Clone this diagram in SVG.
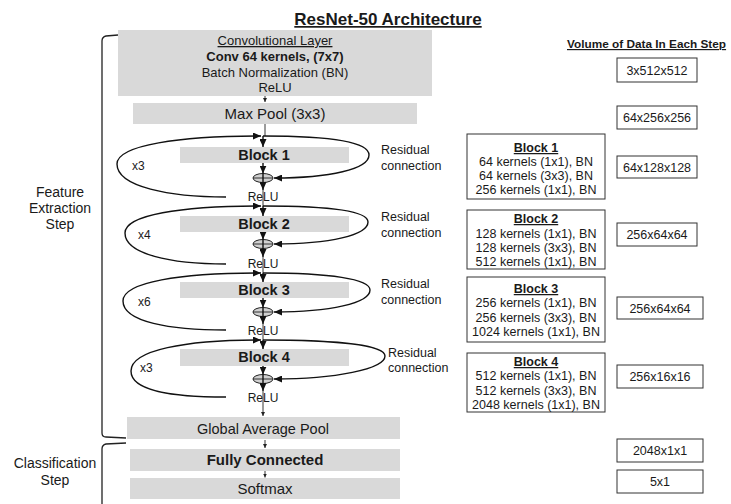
<svg xmlns="http://www.w3.org/2000/svg" width="731" height="504" viewBox="0 0 731 504">
<style>
text{font-family:"Liberation Sans",Arial,sans-serif;fill:#1a1a1a}
.g{fill:#d9d9d9}
.b{font-weight:bold}
.m{text-anchor:middle}
.u{text-decoration:underline}
.ln{fill:none;stroke:#111;stroke-width:1.4}
.th{fill:none;stroke:#222;stroke-width:0.9}
.bx{fill:#fff;stroke:#333;stroke-width:1}
.br{fill:none;stroke:#222;stroke-width:1.3}
.add{fill:#d0d0d0;stroke:#222;stroke-width:1}
</style>
<defs>
<marker id="ah" markerUnits="userSpaceOnUse" markerWidth="8" markerHeight="7" refX="8" refY="3.5" orient="auto"><path d="M0,0 L8,3.5 L0,7 z" fill="#111"/></marker>
<marker id="as" markerUnits="userSpaceOnUse" markerWidth="4" markerHeight="4" refX="4" refY="2" orient="auto"><path d="M0,0 L4,2 L0,4 z" fill="#222"/></marker>
</defs>

<text x="388" y="25" class="b m u" font-size="17">ResNet-50 Architecture</text>

<g id="brackets">
<path class="br" d="M118,35 L106,36 Q102,37 102,41 L102,433 Q102,437 106,437 L126,438"/>
<path class="br" d="M126,443 L106,444 Q102,445 102,449 L102,504"/>
<text x="60" y="197" class="m" font-size="14">Feature</text>
<text x="60" y="213" class="m" font-size="14">Extraction</text>
<text x="60" y="229" class="m" font-size="14">Step</text>
<text x="55" y="468" class="m" font-size="14">Classification</text>
<text x="55" y="485" class="m" font-size="14">Step</text>
</g>

<g id="conv">
<rect class="g" x="118" y="30" width="314" height="66"/>
<text x="275" y="45" class="m u" font-size="13">Convolutional Layer</text>
<text x="275" y="61" class="m b" font-size="13">Conv 64 kernels, (7x7)</text>
<text x="275" y="77" class="m" font-size="13">Batch Normalization (BN)</text>
<text x="275" y="92" class="m" font-size="13">ReLU</text>
</g>
<g id="maxpool">
<rect class="g" x="133" y="103" width="284" height="21"/>
<text x="275" y="119" class="m" font-size="15">Max Pool (3x3)</text>
</g>

<g id="block1">
<rect class="g" x="180" y="147" width="169" height="16"/>
<text x="264" y="160" class="m b" font-size="14.5">Block 1</text>
</g>
<g id="block2">
<rect class="g" x="180" y="216" width="169" height="16"/>
<text x="264" y="229" class="m b" font-size="14.5">Block 2</text>
</g>
<g id="block3">
<rect class="g" x="180" y="282" width="169" height="16"/>
<text x="264" y="295" class="m b" font-size="14.5">Block 3</text>
</g>
<g id="block4">
<rect class="g" x="180" y="349" width="169" height="17"/>
<text x="264" y="362" class="m b" font-size="14.5">Block 4</text>
</g>

<g id="adders">
<ellipse class="add" cx="263" cy="178" rx="10" ry="4.5"/>
<ellipse class="add" cx="263" cy="244" rx="10" ry="4.5"/>
<ellipse class="add" cx="263" cy="312" rx="10" ry="4.5"/>
<ellipse class="add" cx="263" cy="379" rx="10" ry="4.5"/>
<path class="th" d="M253,178 H273 M253,244 H273 M253,312 H273 M253,379 H273"/>
</g>

<g id="gap">
<rect class="g" x="127" y="417" width="273" height="22"/>
<text x="263" y="434" class="m" font-size="14.5">Global Average Pool</text>
</g>
<g id="fc">
<rect class="g" x="130" y="449" width="270" height="22"/>
<text x="265" y="465" class="m b" font-size="15">Fully Connected</text>
</g>
<g id="softmax">
<rect class="g" x="130" y="478" width="270" height="21"/>
<text x="265" y="494" class="m" font-size="15">Softmax</text>
</g>

<g id="connectors">
<path class="th" d="M265,96 L265,102" marker-end="url(#as)"/>
<path class="th" d="M265,124 L265,136"/>
<!-- block 1 -->
<path class="ln" d="M226,197 C170,197 117,187 117,164 C117,145 180,136 261,136" marker-end="url(#ah)"/>
<path class="ln" d="M263,136 C330,136 369,142 369,155 C369,169 330,178 274,178" marker-end="url(#ah)"/>
<path class="ln" d="M263,136 L263,147" marker-end="url(#ah)"/>
<path class="ln" d="M263,163 L263,173.5" marker-end="url(#ah)"/>
<path class="ln" d="M263,173.5 L263,190" marker-end="url(#ah)"/>
<path class="th" d="M263,190 L263,206"/>
<!-- block 2 -->
<path class="ln" d="M226,264 C170,264 125,254 125,233 C125,215 180,206 261,206" marker-end="url(#ah)"/>
<path class="ln" d="M263,206 C330,206 368,211 368,222 C368,235 330,244 274,244" marker-end="url(#ah)"/>
<path class="ln" d="M263,206 L263,216" marker-end="url(#ah)"/>
<path class="ln" d="M263,232 L263,239.5" marker-end="url(#ah)"/>
<path class="ln" d="M263,239.5 L263,257" marker-end="url(#ah)"/>
<path class="th" d="M263,257 L263,273"/>
<!-- block 3 -->
<path class="ln" d="M226,330 C170,330 123,322 123,301 C123,282 180,273 261,273" marker-end="url(#ah)"/>
<path class="ln" d="M263,273 C330,273 370,279 370,290 C370,303 330,312 274,312" marker-end="url(#ah)"/>
<path class="ln" d="M263,273 L263,282" marker-end="url(#ah)"/>
<path class="ln" d="M263,298 L263,307.5" marker-end="url(#ah)"/>
<path class="ln" d="M263,307.5 L263,324" marker-end="url(#ah)"/>
<path class="th" d="M263,324 L263,340"/>
<!-- block 4 -->
<path class="ln" d="M226,397 C172,397 131,391 131,371 C131,350 185,340 261,340" marker-end="url(#ah)"/>
<path class="ln" d="M263,340 C335,340 385,345 385,356 C385,369 335,379 274,379" marker-end="url(#ah)"/>
<path class="ln" d="M263,340 L263,349" marker-end="url(#ah)"/>
<path class="ln" d="M263,366 L263,374.5" marker-end="url(#ah)"/>
<path class="ln" d="M263,374.5 L263,391" marker-end="url(#ah)"/>
<path class="th" d="M263,391 L263,416" marker-end="url(#as)"/>
<path class="th" d="M265,440 L265,448" marker-end="url(#as)"/>
<path class="th" d="M265,471 L265,477.5" marker-end="url(#as)"/>
</g>

<g id="loop-labels" font-size="12">
<text x="263" y="201" class="m" font-size="12">ReLU</text>
<text x="263" y="268" class="m" font-size="12">ReLU</text>
<text x="263" y="335" class="m" font-size="12">ReLU</text>
<text x="263" y="402" class="m" font-size="12">ReLU</text>
<text x="132" y="170" font-size="12">x3</text>
<text x="138" y="239" font-size="12">x4</text>
<text x="138" y="306" font-size="12">x6</text>
<text x="140" y="372" font-size="12">x3</text>
<text x="381" y="154" font-size="12.5">Residual</text>
<text x="381" y="170" font-size="12.5">connection</text>
<text x="381" y="221" font-size="12.5">Residual</text>
<text x="381" y="237" font-size="12.5">connection</text>
<text x="381" y="288" font-size="12.5">Residual</text>
<text x="381" y="304" font-size="12.5">connection</text>
<text x="388" y="357" font-size="12.5">Residual</text>
<text x="388" y="372" font-size="12.5">connection</text>
</g>

<g id="detail1" font-size="12.5">
<rect class="bx" x="467" y="134" width="138" height="65"/>
<text x="536" y="152" class="m b u" font-size="12.5">Block 1</text>
<text x="536" y="166" class="m" font-size="12.5">64 kernels (1x1), BN</text>
<text x="536" y="180" class="m" font-size="12.5">64 kernels (3x3), BN</text>
<text x="536" y="194" class="m" font-size="12.5">256 kernels (1x1), BN</text>
</g>
<g id="detail2">
<rect class="bx" x="467" y="210" width="138" height="59"/>
<text x="536" y="223" class="m b u" font-size="12.5">Block 2</text>
<text x="536" y="238" class="m" font-size="12.5">128 kernels (1x1), BN</text>
<text x="536" y="252" class="m" font-size="12.5">128 kernels (3x3), BN</text>
<text x="536" y="266" class="m" font-size="12.5">512 kernels (1x1), BN</text>
</g>
<g id="detail3">
<rect class="bx" x="467" y="277" width="138" height="65"/>
<text x="536" y="293" class="m b u" font-size="12.5">Block 3</text>
<text x="536" y="307" class="m" font-size="12.5">256 kernels (1x1), BN</text>
<text x="536" y="322" class="m" font-size="12.5">256 kernels (3x3), BN</text>
<text x="536" y="336" class="m" font-size="12.5">1024 kernels (1x1), BN</text>
</g>
<g id="detail4">
<rect class="bx" x="467" y="353" width="138" height="59"/>
<text x="536" y="366" class="m b u" font-size="12.5">Block 4</text>
<text x="536" y="380" class="m" font-size="12.5">512 kernels (1x1), BN</text>
<text x="536" y="395" class="m" font-size="12.5">512 kernels (3x3), BN</text>
<text x="536" y="409" class="m" font-size="12.5">2048 kernels (1x1), BN</text>
</g>

<g id="volumes">
<text x="567" y="48" class="b u" font-size="11.8">Volume of Data In Each Step</text>
<rect class="bx" x="617" y="58" width="80" height="24"/>
<text x="657" y="75" class="m" font-size="12.5">3x512x512</text>
<rect class="bx" x="617" y="106" width="80" height="23"/>
<text x="657" y="122" class="m" font-size="12.5">64x256x256</text>
<rect class="bx" x="617" y="156" width="80" height="22"/>
<text x="657" y="171.5" class="m" font-size="12.5">64x128x128</text>
<rect class="bx" x="617" y="223" width="80" height="23"/>
<text x="657" y="239" class="m" font-size="12.5">256x64x64</text>
<rect class="bx" x="617" y="297" width="86" height="22"/>
<text x="660" y="312.5" class="m" font-size="12.5">256x64x64</text>
<rect class="bx" x="617" y="365" width="86" height="23"/>
<text x="660" y="381" class="m" font-size="12.5">256x16x16</text>
<rect class="bx" x="617" y="439" width="86" height="23"/>
<text x="660" y="455" class="m" font-size="12.5">2048x1x1</text>
<rect class="bx" x="617" y="470" width="86" height="23"/>
<text x="660" y="486" class="m" font-size="12.5">5x1</text>
</g>
</svg>
